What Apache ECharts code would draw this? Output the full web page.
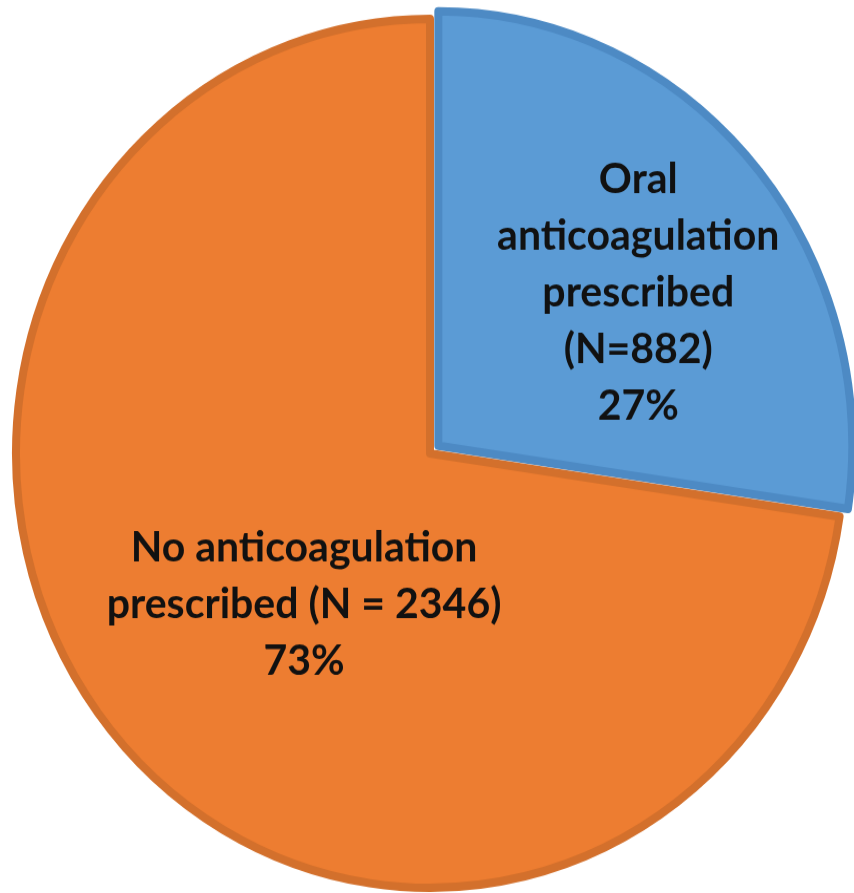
<!DOCTYPE html>
<html>
<head>
<meta charset="utf-8">
<script src="https://cdn.jsdelivr.net/npm/echarts@6/dist/echarts.min.js"></script>
<style>
  html, body { margin: 0; padding: 0; background: #ffffff; overflow: hidden; }
  #wrap { width: 854px; height: 893px; overflow: hidden; }
  /* the pie is drawn slightly taller than wide */
  #chart { width: 854px; height: 851px; transform: scaleY(1.0494); transform-origin: 0 0; }
</style>
</head>
<body>
<div id="wrap"><div id="chart"></div></div>
<script>
// Anticoagulation status of the cohort
const categories = ['Oral\nanticoagulation\nprescribed\n(N=882)', 'No anticoagulation\nprescribed (N = 2346)'];
const counts = [882, 2346];
const percents = ['27%', '73%'];

const fills = ['#5b9bd5', '#ed7d31'];
const edges = ['#4d8ac4', '#d3702c'];
const labelOffsets = [[41, -9], [33, 7]];

const chart = echarts.init(document.getElementById('chart'), null, { renderer: 'canvas' });

const data = categories.map((name, i) => ({
  name: name,
  value: counts[i],
  selected: i === 0,
  itemStyle: { color: fills[i], borderColor: edges[i], borderWidth: 8 },
  label: { offset: labelOffsets[i] },
  select: { label: { offset: labelOffsets[i] } }
}));

chart.setOption({
  animation: false,
  series: [{
    type: 'pie',
    center: [430, 432],
    radius: [0, 414],
    startAngle: 90,
    clockwise: true,
    selectedMode: 'single',
    selectedOffset: 11,
    avoidLabelOverlap: false,
    emphasis: { disabled: true },
    label: {
      show: true,
      position: 'inside',
      formatter: p => p.name + '\n' + percents[p.dataIndex],
      color: '#111111',
      fontFamily: 'Lato',
      fontWeight: 'bold',
      fontSize: 41,
      lineHeight: 54,
      align: 'center'
    },
    labelLine: { show: false },
    data: data
  }]
});
</script>
</body>
</html>
